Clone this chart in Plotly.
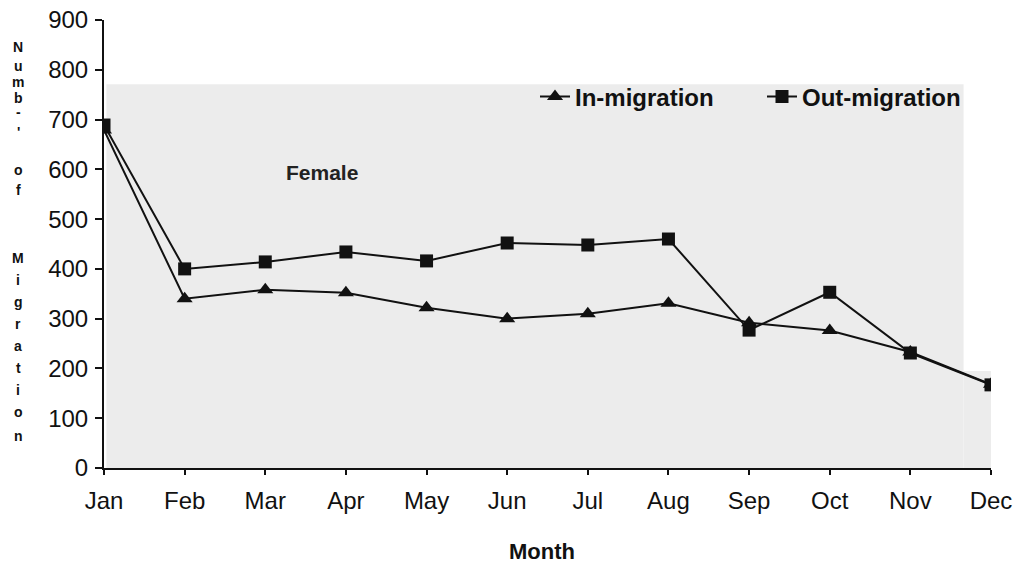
import plotly.graph_objects as go

months = ["Jan", "Feb", "Mar", "Apr", "May", "Jun", "Jul", "Aug", "Sep", "Oct", "Nov", "Dec"]
in_migration = [679, 340, 358, 352, 322, 300, 310, 331, 292, 276, 233, 168]
out_migration = [689, 400, 414, 434, 416, 452, 448, 460, 277, 353, 231, 167]
y_ticks = [0, 100, 200, 300, 400, 500, 600, 700, 800, 900]

FONT = "Liberation Sans, Arial, sans-serif"

fig = go.Figure()
fig.add_trace(go.Scatter(
    x=months, y=in_migration, name="In-migration", mode="lines+markers",
    line=dict(color="#111111", width=2),
    marker=dict(symbol="triangle-up", size=14, color="#111111"),
    legend="legend",
))
fig.add_trace(go.Scatter(
    x=months, y=out_migration, name="Out-migration", mode="lines+markers",
    line=dict(color="#111111", width=2),
    marker=dict(symbol="square", size=13, color="#111111"),
    legend="legend2",
))

# grey scanned background panel
fig.add_shape(type="rect", xref="x", yref="y", x0=0.03, x1=10.66, y0=0, y1=771,
              fillcolor="#ececec", line=dict(width=0), layer="below")
fig.add_shape(type="rect", xref="x", yref="y", x0=10.66, x1=11, y0=0, y1=195,
              fillcolor="#ececec", line=dict(width=0), layer="below")

# page has an 8px body margin; geometry below is in page pixels
OFF = 8
W, H = 1005, 556
PL, PR, PT, PB = 104, 991, 20, 468   # plot area in page pixels
L = PL - OFF
T = PT - OFF
R = W - (PR - OFF)
B = H - (PB - OFF)
pw = PR - PL
ph = PB - PT

def py(p):
    return (PB - p) / ph

def px(p):
    return (p - PL) / pw

annotations = []
letters = ["N", "u", "m", "b", "-", "'", "o", "f", "M", "i", "g", "r", "a", "t", "i", "o", "n"]
letter_px = [47, 66, 82, 98, 112, 132, 170, 190, 258, 280, 302, 324, 346, 368, 390, 412, 436]
for ch, p in zip(letters, letter_px):
    annotations.append(dict(text=ch, x=px(18), y=py(p), xref="paper", yref="paper",
                            xanchor="center", yanchor="middle", showarrow=False,
                            font=dict(family=FONT, size=14, color="#111111", weight="bold")))
annotations.append(dict(text="Month", x=px(542), y=py(551), xref="paper", yref="paper",
                        xanchor="center", yanchor="middle", showarrow=False,
                        font=dict(family=FONT, size=22, color="#111111", weight="bold")))
annotations.append(dict(text="Female", x=px(322), y=py(172), xref="paper", yref="paper",
                        xanchor="center", yanchor="middle", showarrow=False,
                        font=dict(family=FONT, size=21, color="#222222", weight="bold")))

legend_font = dict(family=FONT, size=24, color="#111111", weight="bold")
fig.update_layout(
    width=W, height=H,
    margin=dict(l=L, r=R, t=T, b=B),
    paper_bgcolor="white", plot_bgcolor="white",
    font=dict(family=FONT, size=24, color="#111111"),
    showlegend=True,
    legend=dict(orientation="h", x=px(535), y=py(97), xanchor="left", yanchor="middle",
                bgcolor="rgba(0,0,0,0)", font=legend_font),
    legend2=dict(orientation="h", x=px(762), y=py(97), xanchor="left", yanchor="middle",
                 bgcolor="rgba(0,0,0,0)", font=legend_font),
    annotations=annotations,
)
fig.update_xaxes(
    type="category", range=[0, 11], showgrid=False, zeroline=False, automargin=False,
    showline=True, linecolor="#111111", linewidth=2,
    ticks="outside", ticklen=5, tickcolor="#111111", tickwidth=2,
    ticklabelstandoff=5, ticklabeloverflow="allow",
    tickfont=dict(family=FONT, size=24, color="#111111"),
)
fig.update_yaxes(
    range=[0, 900], tickvals=y_ticks, showgrid=False, zeroline=False, automargin=False,
    showline=True, linecolor="#111111", linewidth=2,
    ticks="outside", ticklen=7, tickcolor="#111111", tickwidth=2,
    ticklabelstandoff=2, ticklabeloverflow="allow",
    tickfont=dict(family=FONT, size=24, color="#111111"),
)

fig.write_html("out.html")
